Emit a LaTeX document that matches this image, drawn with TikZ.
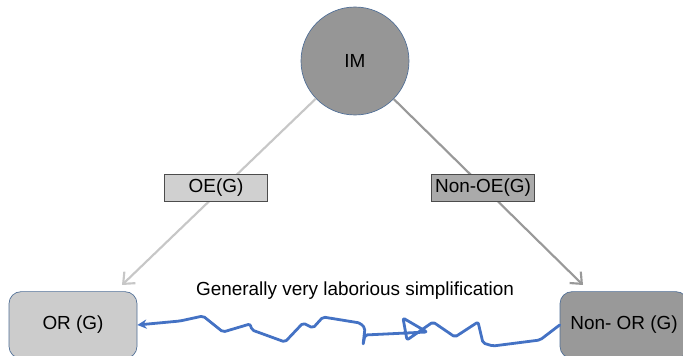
\documentclass[tikz,border=0pt]{standalone}
\usepackage{fontspec}
\setmainfont{Liberation Sans}
\usetikzlibrary{arrows.meta}
\definecolor{imgray}{RGB}{150,150,150}
\definecolor{oegray}{RGB}{208,208,208}
\definecolor{noegray}{RGB}{170,170,170}
\definecolor{orgray}{RGB}{204,204,204}
\definecolor{norgray}{RGB}{153,153,153}
\definecolor{edgeblue}{RGB}{79,110,150}
\definecolor{penblue}{RGB}{68,114,196}
\tikzset{
  txt/.style={font=\fontsize{14.2}{17}\selectfont, text=black},
  tag/.style={txt, draw=black!70, line width=0.5pt, minimum width=77pt, minimum height=20pt, inner sep=0pt},
  res/.style={txt, draw=edgeblue, line width=0.5pt, rounded corners=9pt, minimum width=96pt, minimum height=50pt, inner sep=0pt},
}
\begin{document}
\begin{tikzpicture}[x=0.75pt,y=0.75pt,yscale=-1,xscale=1]
\useasboundingbox (0,0) rectangle (683,356);
% Circle
\node (IM) [txt, circle, draw=edgeblue, line width=0.5pt, fill=imgray, minimum size=81pt] at (355,61) {IM};
% Result boxes
\node (OR) [res, fill=orgray] at (73,325) {OR (G)};
\node (NonOR) [res, fill=norgray] at (624,325) {Non- OR (G)};
% Arrow tips
\coordinate (tipL) at (122,285);
\coordinate (tipR) at (583,285);
% Straight Lines
\draw [draw=black!22, line width=1.6pt, -{Straight Barb[length=7pt,width=12pt]}] (IM) -- (tipL);
\draw [draw=black!40, line width=1.6pt, -{Straight Barb[length=7pt,width=12pt]}] (IM) -- (tipR);
% Text Node
\node (OE) [tag, fill=oegray] at (216,188) {OE(G)};
% Text Node
\node (NonOE) [tag, fill=noegray] at (483,188) {Non-OE(G)};
% Text Node
\node (note) [txt] at (355,291) {Generally very laborious simplification};
% Freehand line
\draw [draw=penblue, line width=2.1pt, line cap=round, line join=round, rounded corners=1.5pt, -{Stealth[length=7pt,width=7pt]}]
  (NonOR.west) -- (540,340) -- (493,346) -- (483,343) -- (478,322) -- (455,337) -- (433,322) -- (407,340)
  -- (403,318) -- (427,332) -- (365,335) -- (363,345) -- (365,328) -- (360,323) -- (323,317) -- (313,328)
  -- (303,323) -- (285,342) -- (252,330) -- (250,324) -- (223,332) -- (203,316) -- (180,321) -- (OR.east);
\end{tikzpicture}
\end{document}
